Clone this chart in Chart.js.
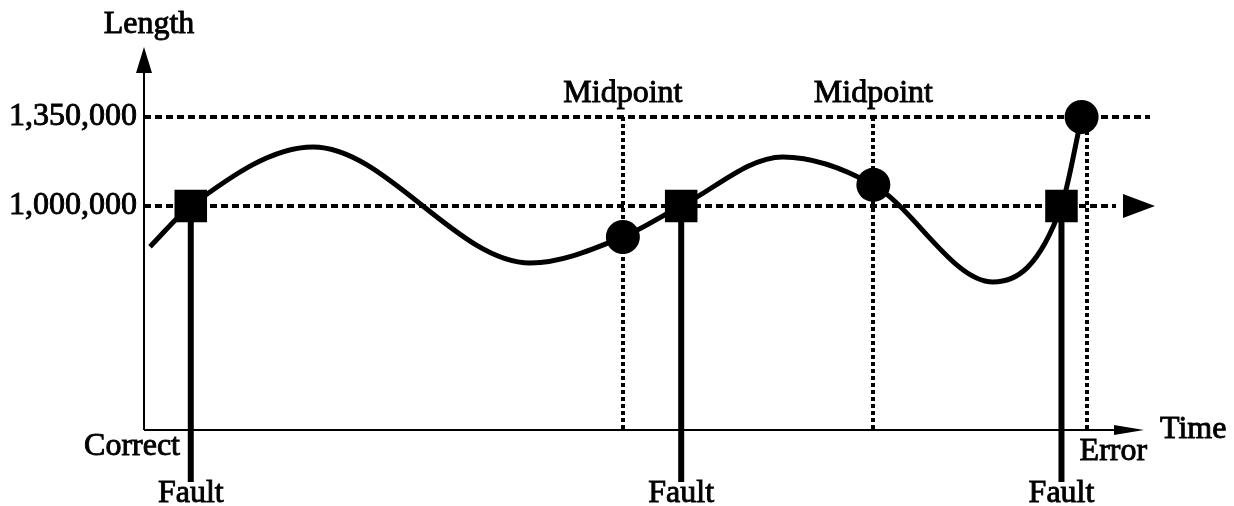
<!DOCTYPE html>
<html>
<head>
<meta charset="utf-8">
<script src="https://cdn.jsdelivr.net/npm/chart.js@4.4.1/dist/chart.umd.min.js"></script>
<style>
    html, body { margin: 0; padding: 0; background: #fff; }
</style>
</head>
<body>
<canvas id="myChart" width="1234" height="506"></canvas>
<script>
//  Curve (time units 0..100, length)
const curve_x  = [0.6, 4.65, 16.8, 38.4, 47.6, 53.4, 63.5, 72.5, 84.4, 91.2, 93.2];
const curve_y  = [840000, 1000000, 1232000, 776000, 878000, 1000000, 1193000, 1083000, 701000, 1000000, 1350000];
//  Fault markers (squares)
const fault_x  = [4.65, 53.4, 91.2];
const fault_y  = [1000000, 1000000, 1000000];
//  Midpoint / error markers (circles)
const circle_x = [47.6, 72.5, 93.2];
const circle_y = [878000, 1083000, 1350000];
//  Vertical dotted lines
const midpoint_x = [47.6, 72.5];
const error_x    = 93.7;
//  Axis
const y_ticks = [1000000, 1350000];
const y_min = 119000, y_max = 1633000;
const x_min = 0, x_max = 100;

const FAMILY = "'Liberation Serif', 'Times New Roman', serif";
const FONT = "32px " + FAMILY;

function toPoints(xs, ys){
    return xs.map((x, i) => ({x: x, y: ys[i]}));
}

function arrow(ctx, tx, ty, dir, len, half){
    //  filled triangle, tip at (tx,ty); dir: 'up' or 'right'
    ctx.beginPath();
    if(dir === 'up'){
        ctx.moveTo(tx, ty);
        ctx.lineTo(tx - half, ty + len);
        ctx.lineTo(tx + half, ty + len);
    } else {
        ctx.moveTo(tx, ty);
        ctx.lineTo(tx - len, ty - half);
        ctx.lineTo(tx - len, ty + half);
    }
    ctx.closePath();
    ctx.fill();
}

//  text a little heavier, like the scanned original
function label(ctx, txt, x, y){
    ctx.strokeText(txt, x, y);
    ctx.fillText(txt, x, y);
}

const diagramPlugin = {
    id: 'diagram',
    beforeDatasetsDraw(chart){
        const ctx = chart.ctx;
        const area = chart.chartArea;
        const xs = chart.scales.x, ys = chart.scales.y;
        ctx.save();
        ctx.strokeStyle = '#000';

        //  dotted verticals: midpoints and error
        ctx.lineWidth = 4;
        ctx.setLineDash([4, 3]);
        midpoint_x.concat([error_x]).forEach(v => {
            const px = Math.round(xs.getPixelForValue(v));
            ctx.beginPath();
            ctx.moveTo(px, ys.getPixelForValue(y_ticks[1]));
            ctx.lineTo(px, area.bottom);
            ctx.stroke();
        });

        //  fault lines, down past the time axis
        ctx.setLineDash([]);
        ctx.lineWidth = 6;
        fault_x.forEach(v => {
            const px = xs.getPixelForValue(v);
            ctx.beginPath();
            ctx.moveTo(px, ys.getPixelForValue(fault_y[0]));
            ctx.lineTo(px, area.bottom + 52);
            ctx.stroke();
        });

        //  axes
        ctx.lineWidth = 2;
        ctx.beginPath();
        ctx.moveTo(area.left, area.bottom);
        ctx.lineTo(area.left, area.top + 20);
        ctx.moveTo(area.left, area.bottom);
        ctx.lineTo(area.right - 30, area.bottom);
        ctx.stroke();
        ctx.restore();
    },
    afterDraw(chart){
        const ctx = chart.ctx;
        const area = chart.chartArea;
        const xs = chart.scales.x, ys = chart.scales.y;
        ctx.save();
        ctx.fillStyle = '#000';
        ctx.strokeStyle = '#000';

        //  arrow heads
        arrow(ctx, area.left, area.top + 2, 'up', 26, 8);
        arrow(ctx, area.right - 6, area.bottom, 'right', 30, 5);
        //  arrow at end of the 1,000,000 line
        ctx.fillStyle = '#fff';
        ctx.fillRect(area.right - 34, ys.getPixelForValue(y_ticks[0]) - 3, 40, 6);
        ctx.fillStyle = '#000';
        arrow(ctx, area.right + 5, ys.getPixelForValue(y_ticks[0]), 'right', 32, 12);

        //  labels
        ctx.font = FONT;
        ctx.lineWidth = 0.9;
        ctx.textBaseline = 'alphabetic';
        ctx.textAlign = 'center';
        label(ctx, 'Length', area.left + 5, area.top - 12);
        midpoint_x.forEach(v => {
            label(ctx, 'Midpoint', xs.getPixelForValue(v), ys.getPixelForValue(y_ticks[1]) - 15);
        });
        fault_x.forEach(v => {
            label(ctx, 'Fault', xs.getPixelForValue(v), area.bottom + 72);
        });
        ctx.textAlign = 'right';
        label(ctx, 'Correct', area.left + 36, area.bottom + 25);
        ctx.textAlign = 'left';
        label(ctx, 'Error', xs.getPixelForValue(error_x) - 7, area.bottom + 30);
        label(ctx, 'Time', area.right + 10, area.bottom + 8);
        ctx.restore();
    }
};

const data = {
    datasets: [
        {
            label: 'length',
            data: toPoints(curve_x, curve_y),
            showLine: true,
            borderColor: '#000',
            borderWidth: 5,
            pointRadius: 0,
            cubicInterpolationMode: 'monotone',
            clip: false
        },
        {
            label: 'fault',
            data: toPoints(fault_x, fault_y),
            showLine: false,
            pointStyle: 'rect',
            pointRadius: 23,
            backgroundColor: '#000',
            borderColor: '#000',
            borderWidth: 0,
            clip: false
        },
        {
            label: 'check',
            data: toPoints(circle_x, circle_y),
            showLine: false,
            pointStyle: 'circle',
            pointRadius: 17,
            backgroundColor: '#000',
            borderColor: '#000',
            borderWidth: 0,
            clip: false
        }
    ]
};

const config = {
    type: 'scatter',
    data: data,
    plugins: [diagramPlugin],
    options: {
        responsive: false,
        animation: false,
        devicePixelRatio: 1,
        layout: { padding: { left: 0, right: 84, top: 45, bottom: 76 } },
        plugins: { legend: { display: false }, tooltip: { enabled: false } },
        scales: {
            x: {
                type: 'linear',
                min: x_min,
                max: x_max,
                display: false
            },
            y: {
                type: 'linear',
                min: y_min,
                max: y_max,
                afterBuildTicks: function(scale){
                    scale.ticks = y_ticks.map(v => ({value: v}));
                },
                afterFit: function(scale){
                    scale.width = 144;
                },
                ticks: {
                    color: '#000',
                    padding: 7,
                    textStrokeColor: '#000',
                    textStrokeWidth: 0.9,
                    font: { family: FAMILY, size: 32 },
                    callback: function(v){ return Number(v).toLocaleString('en-US'); }
                },
                grid: { color: '#000', lineWidth: 4, drawTicks: false },
                border: { display: false, dash: [7, 4] }
            }
        }
    }
};

let myChart = new Chart(document.getElementById('myChart'), config);
</script>
</body>
</html>
